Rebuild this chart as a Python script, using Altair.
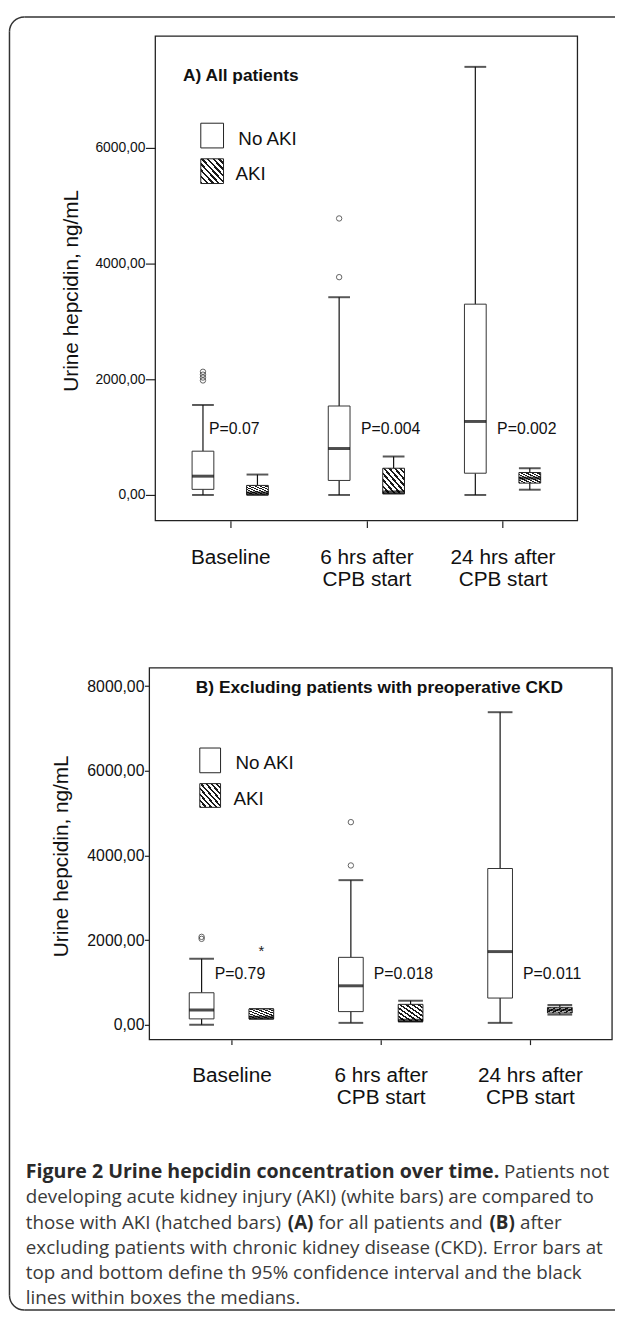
import altair as alt
import pandas as pd
import math
import json

categories = ["Baseline", "6 hrs after|CPB start", "24 hrs after|CPB start"]
groups = ["No AKI", "AKI"]

# ---------------- Panel A: all patients ----------------
a_noaki_low = [0, 0, 0]
a_noaki_q1 = [97, 251, 376]
a_noaki_med = [325, 803, 1271]
a_noaki_q3 = [757, 1538, 3299]
a_noaki_high = [1556, 3419, 7402]
a_aki_low = [0, 23, 91]
a_aki_q1 = [5, 23, 205]
a_aki_med = [34, 51, 291]
a_aki_q3 = [165, 462, 388]
a_aki_high = [353, 667, 462]
a_out_time = ["Baseline"] * 4 + ["6 hrs after|CPB start"] * 2
a_out_group = ["No AKI"] * 6
a_out_value = [1980, 2030, 2080, 2130, 3766, 4781]
a_pvalues = ["P=0.07", "P=0.004", "P=0.002"]
a_p_level = 1145
a_yticks = [0, 2000, 4000, 6000]

# ---------------- Panel B: excluding preoperative CKD ----------------
b_noaki_low = [0, 47, 47]
b_noaki_q1 = [141, 313, 633]
b_noaki_med = [352, 922, 1730]
b_noaki_q3 = [758, 1594, 3692]
b_noaki_high = [1562, 3417, 7383]
b_aki_low = [141, 78, 242]
b_aki_q1 = [141, 78, 281]
b_aki_med = [180, 109, 352]
b_aki_q3 = [375, 484, 414]
b_aki_high = [375, 570, 469]
b_out_time = ["Baseline"] * 2 + ["6 hrs after|CPB start"] * 2
b_out_group = ["No AKI"] * 4
b_out_value = [2031, 2078, 3764, 4787]
b_ext_time = ["Baseline"]
b_ext_group = ["AKI"]
b_ext_value = [1836]
b_pvalues = ["P=0.79", "P=0.018", "P=0.011"]
b_p_level = 1190
b_yticks = [0, 2000, 4000, 6000, 8000]

FONT = "Liberation Sans"
CAPFONT = "Open Sans"
one = pd.DataFrame({"k": [0]})
GROUP_SHIFT = 0.2  # side-by-side offset of the two groups within a time point


def hatch(n=8, frac=0.42):
    stops = []
    for k in range(n):
        a, b, c = k / n, (k + frac) / n, (k + 1) / n
        stops += [
            {"offset": a, "color": "#1a1a1a"},
            {"offset": b, "color": "#1a1a1a"},
            {"offset": b, "color": "#ffffff"},
            {"offset": c, "color": "#ffffff"},
        ]
    return {"gradient": "linear", "x1": 0, "y1": 1, "x2": 1, "y2": 0, "stops": stops}


def stats_df(nl, nq1, nm, nq3, nh, al, aq1, am, aq3, ah):
    rows = []
    for i, t in enumerate(categories):
        rows.append(dict(time=t, idx=i, group="No AKI", low=nl[i], q1=nq1[i], med=nm[i], q3=nq3[i], high=nh[i]))
        rows.append(dict(time=t, idx=i, group="AKI", low=al[i], q1=aq1[i], med=am[i], q3=aq3[i], high=ah[i]))
    return pd.DataFrame(rows)


def pts_df(times, grps, vals):
    return pd.DataFrame({"time": times, "idx": [categories.index(t) for t in times],
                         "group": grps, "value": vals})


POS = f"datum.idx + (datum.group == 'AKI' ? {GROUP_SHIFT} : -{GROUP_SHIFT})"
LABEL_EXPR = f"split({json.dumps(categories)}[datum.value], '|')"


def panel(stats, outl, pvals, p_level, ext, p):
    xscale = alt.Scale(domain=p["xdom"], nice=False, zero=False, padding=0)
    xaxis = alt.Axis(values=[0, 1, 2], labelExpr=LABEL_EXPR, labelAngle=0, labelFont=FONT,
                     labelFontSize=21, labelLineHeight=23, labelPadding=p["xpad"],
                     labelColor="#111", tickSize=p["xtick"], tickColor="#222", tickWidth=1.2,
                     domain=False, grid=False, labelFlush=False, labelOverlap=False)

    def X(f):
        return alt.X(f + ":Q", scale=xscale, axis=xaxis, title=None)

    yscale = alt.Scale(domain=p["ydom"], nice=False, zero=False, padding=0)
    yaxis = alt.Axis(values=p["yticks"], labelExpr="replace(format(datum.value, '.2f'), '.', ',')",
                     labelFont=FONT, labelFontSize=p["yfont"], labelColor="#111", labelPadding=0.5,
                     tickSize=p["ytick"], tickColor="#222", tickWidth=1.2, domain=False, grid=False,
                     offset=p["yoffset"], titleFont=FONT, titleFontSize=21, titleFontWeight="normal",
                     titleColor="#111", titleAngle=270, titleX=p["titlex"], titleY=p["titley"],
                     titleAlign="center", titleBaseline="middle")

    def Y(f):
        return alt.Y(f + ":Q", scale=yscale, axis=yaxis, title="Urine hepcidin, ng/mL")

    base = alt.Chart(stats).transform_calculate(pos=POS)
    bw = p["boxpx"]
    layers = [
        base.mark_rule(color="#111", strokeWidth=1.2).encode(x=X("pos"), y=Y("low"), y2="q1"),
        base.mark_rule(color="#111", strokeWidth=1.2).encode(x=X("pos"), y=Y("q3"), y2="high"),
        base.mark_tick(orient="horizontal", size=bw, thickness=2, color="#111").encode(x=X("pos"), y=Y("high")),
        base.mark_tick(orient="horizontal", size=bw, thickness=2, color="#111").encode(x=X("pos"), y=Y("low")),
        base.transform_filter("datum.group == 'No AKI'").mark_bar(
            fill="white", stroke="#333", strokeWidth=1, size=bw, orient="vertical"
        ).encode(x=X("pos"), y=Y("q1"), y2="q3"),
        base.transform_filter("datum.group == 'AKI'").mark_bar(
            fill=hatch(), stroke="#222", strokeWidth=1, size=bw, orient="vertical"
        ).encode(x=X("pos"), y=Y("q1"), y2="q3"),
        base.mark_tick(orient="horizontal", size=bw, thickness=3, color="black").encode(x=X("pos"), y=Y("med")),
        alt.Chart(outl).transform_calculate(pos=POS).mark_point(
            shape="circle", filled=False, size=30, strokeWidth=1, color="#222"
        ).encode(x=X("pos"), y=Y("value")),
    ]
    if ext is not None:
        layers.append(alt.Chart(ext).transform_calculate(pos=POS).mark_text(
            text="*", fontSize=15, font=FONT, dy=4, color="#222").encode(x=X("pos"), y=Y("value")))
    pdf = pd.DataFrame({"time": categories, "idx": [0, 1, 2], "label": pvals, "level": [p_level] * 3})
    layers.append(alt.Chart(pdf).transform_filter("datum.idx == 0").mark_text(
        align="left", baseline="middle", fontSize=16, font=FONT, color="#111", dx=p["pdx"][0]
    ).encode(x=X("idx"), y=Y("level"), text="label:N"))
    layers.append(alt.Chart(pdf).transform_filter("datum.idx != 0").mark_text(
        align="left", baseline="middle", fontSize=16, font=FONT, color="#111", dx=p["pdx"][1]
    ).encode(x=X("idx"), y=Y("level"), text="label:N"))
    # plot frame
    fx0, fx1 = p["frame_x"]
    layers.append(alt.Chart(one).mark_rect(fill="white", fillOpacity=0, stroke="#222", strokeWidth=1.3).encode(
        x=alt.value(fx0), x2=alt.value(fx1), y=alt.value(0), y2=alt.value(p["H"])))
    # in-plot legend
    lx0, lx1 = p["leg_x"]
    (w0, w1), (h0, h1) = p["leg_y"]
    layers.append(alt.Chart(one).mark_rect(fill="white", stroke="#222", strokeWidth=1).encode(
        x=alt.value(lx0), x2=alt.value(lx1), y=alt.value(w0), y2=alt.value(w1)))
    layers.append(alt.Chart(one).mark_rect(fill=hatch(8), stroke="#222", strokeWidth=1).encode(
        x=alt.value(lx0), x2=alt.value(lx1), y=alt.value(h0), y2=alt.value(h1)))
    (tx0, ty0), (tx1, ty1) = p["leg_t"]
    layers.append(alt.Chart(one).mark_text(text="No AKI", align="left", baseline="middle", fontSize=19,
                                           font=FONT, color="#111").encode(x=alt.value(tx0), y=alt.value(ty0)))
    layers.append(alt.Chart(one).mark_text(text="AKI", align="left", baseline="middle", fontSize=19,
                                           font=FONT, color="#111").encode(x=alt.value(tx1), y=alt.value(ty1)))
    layers.append(alt.Chart(one).mark_text(text=p["title"], align="left", baseline="middle", fontSize=17.5,
                                           fontWeight="bold", font=FONT, color="#111").encode(
        x=alt.value(p["title_xy"][0]), y=alt.value(p["title_xy"][1])))
    return alt.layer(*layers).properties(width=p["W"], height=p["H"],
                                         view=alt.ViewBackground(stroke="transparent"))


statsA = stats_df(a_noaki_low, a_noaki_q1, a_noaki_med, a_noaki_q3, a_noaki_high,
                  a_aki_low, a_aki_q1, a_aki_med, a_aki_q3, a_aki_high)
outA = pts_df(a_out_time, a_out_group, a_out_value)
statsB = stats_df(b_noaki_low, b_noaki_q1, b_noaki_med, b_noaki_q3, b_noaki_high,
                  b_aki_low, b_aki_q1, b_aki_med, b_aki_q3, b_aki_high)
outB = pts_df(b_out_time, b_out_group, b_out_value)
extB = pts_df(b_ext_time, b_ext_group, b_ext_value)

# panel A's plot frame starts 6 px right of panel B's; its view starts at B's left edge
pA = dict(W=433, H=490, xdom=[-0.55 - 6 * 3.1 / 427, 2.55], xpad=19, xtick=7, ydom=[-444, 7932],
          yticks=a_yticks, yfont=14, ytick=10, yoffset=-6, titlex=-85, titley=257, boxpx=22,
          pdx=[-21.4, -5.5], frame_x=[6, 433], leg_x=[52, 75], leg_y=[[88, 113], [124, 149]],
          leg_t=[[90, 104], [87, 139]], title="A) All patients", title_xy=[34, 40])
pB = dict(W=468, H=376, xdom=[-0.55, 2.55], xpad=20, xtick=5, ydom=[-350, 8428], yticks=b_yticks,
          yfont=16, ytick=5, yoffset=0, titlex=-89, titley=190, boxpx=25,
          pdx=[-17, -7], frame_x=[0, 468], leg_x=[51, 72], leg_y=[[81, 106], [117, 141]],
          leg_t=[[87, 96], [85, 133]], title="B) Excluding patients with preoperative CKD",
          title_xy=[47, 20])

chartA = panel(statsA, outA, a_pvalues, a_p_level, None, pA)
chartB = panel(statsB, outB, b_pvalues, b_p_level, extB, pB)

# ---------------- caption + outer border ----------------
cap_segments = [
    ("Figure 2 Urine hepcidin concentration over time.", -125, -15, "bold", "left", 19.8),
    ("Patients not", 465, -15, "normal", "right", 19),
    ("developing acute kidney injury (AKI) (white bars) are compared to", -125, 10.5, "normal", "left", 19),
    ("those with AKI (hatched bars)", -125, 36, "normal", "left", 19),
    ("(A)", 140, 36, "bold", "left", 19),
    ("for all patients and", 171, 36, "normal", "left", 19),
    ("(B)", 344, 36, "bold", "left", 19),
    ("after", 375, 36, "normal", "left", 19),
    ("excluding patients with chronic kidney disease (CKD). Error bars at", -125, 61.5, "normal", "left", 19),
    ("top and bottom define th 95% confidence interval and the black", -125, 87, "normal", "left", 19),
    ("lines within boxes the medians.", -125, 112.5, "normal", "left", 19),
]
cap_layers = []
for txt, cx, cy, wt, al, fs in cap_segments:
    cap_layers.append(alt.Chart(one).mark_text(
        text=txt, align=al, baseline="middle", font=CAPFONT, fontSize=fs, fontWeight=wt,
        color="#2a2a2a" if wt == "bold" else "#3a3a3a"
    ).encode(x=alt.value(cx), y=alt.value(cy)))

BC = "#333"
cap_layers.append(alt.Chart(one).mark_rule(color=BC, strokeWidth=1.5).encode(
    x=alt.value(-126.5), x2=alt.value(471), y=alt.value(-1183.5)))
cap_layers.append(alt.Chart(one).mark_rule(color=BC, strokeWidth=1.5).encode(
    x=alt.value(-126.5), x2=alt.value(471), y=alt.value(124.5)))
cap_layers.append(alt.Chart(one).mark_rule(color=BC, strokeWidth=1.5).encode(
    x=alt.value(-141.5), y=alt.value(-1168.5), y2=alt.value(109.5)))
cap_layers.append(alt.Chart(one).mark_arc(theta=1.5 * math.pi, theta2=2 * math.pi, radius=15.75,
                                          radius2=14.25, color=BC).encode(
    x=alt.value(-126.5), y=alt.value(-1168.5)))
cap_layers.append(alt.Chart(one).mark_arc(theta=math.pi, theta2=1.5 * math.pi, radius=15.75,
                                          radius2=14.25, color=BC).encode(
    x=alt.value(-126.5), y=alt.value(109.5)))

caption = alt.layer(*cap_layers).properties(width=468, height=110,
                                            view=alt.ViewBackground(stroke="transparent"))

chart = alt.vconcat(chartA, chartB, caption, spacing=149, bounds="flush").properties(
    padding=0, background="white"
).configure_view(stroke="transparent")

chart.save("out.html", embed_options={"renderer": "svg", "actions": False})
